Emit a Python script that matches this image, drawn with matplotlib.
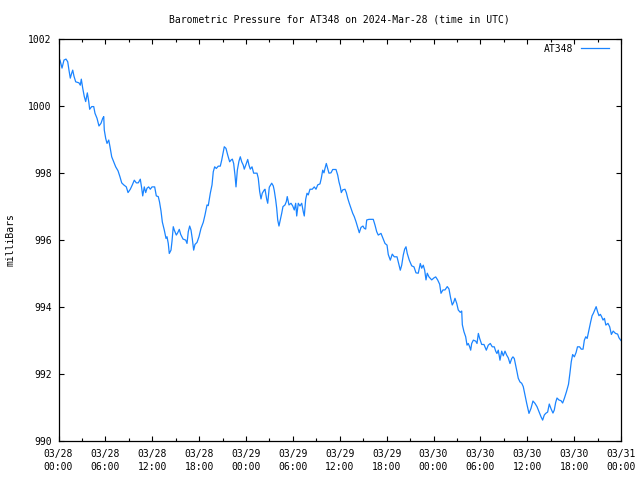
import matplotlib
matplotlib.use("Agg")
import matplotlib.pyplot as plt
from matplotlib.ticker import MultipleLocator, FixedLocator

# ---- data (hours since 2024-03-28 00:00 UTC, pressure in milliBars) ----
hours = [
    0.19, 0.45, 0.70, 0.96, 1.18, 1.34, 1.51, 1.69, 1.82, 1.98, 2.20, 2.62, 2.79, 2.92, 3.10,
    3.30, 3.48, 3.69, 3.87, 3.99, 4.25, 4.51, 4.67, 4.93, 5.18, 5.44, 5.66, 5.79, 5.86, 6.04,
    6.21, 6.43, 6.59, 6.81, 7.07, 7.32, 7.62, 7.87, 8.09, 8.35, 8.68, 8.90, 9.19, 9.45, 9.70,
    9.96, 10.21, 10.47, 10.65, 10.78, 10.98, 11.16, 11.33, 11.54, 11.75, 11.97, 12.31, 12.52, 12.77, 12.93,
    13.12, 13.29, 13.54, 13.76, 13.89, 14.05, 14.18, 14.40, 14.53, 14.69, 14.82, 15.08, 15.26, 15.46, 15.64,
    15.94, 16.28, 16.45, 16.61, 16.79, 16.96, 17.13, 17.30, 17.47, 17.73, 17.98, 18.24, 18.53, 18.75, 19.01,
    19.17, 19.43, 19.65, 19.81, 19.99, 20.20, 20.45, 20.71, 20.89, 21.05, 21.22, 21.44, 21.66, 21.91, 22.08,
    22.25, 22.42, 22.59, 22.72, 22.89, 23.10, 23.27, 23.45, 23.65, 23.78, 24.00, 24.22, 24.38, 24.55, 24.77,
    24.98, 25.41, 25.57, 25.75, 25.92, 26.08, 26.34, 26.43, 26.65, 26.78, 26.98, 27.29, 27.49, 27.62, 27.80,
    27.93, 28.06, 28.22, 28.39, 28.57, 28.73, 28.99, 29.16, 29.28, 29.50, 29.76, 29.98, 30.18, 30.36, 30.49,
    30.69, 30.91, 31.13, 31.33, 31.46, 31.64, 31.81, 31.97, 32.19, 32.48, 32.74, 32.96, 33.18, 33.47, 33.64,
    33.82, 33.98, 34.11, 34.28, 34.46, 34.62, 34.88, 35.10, 35.52, 35.74, 35.90, 36.07, 36.20, 36.38, 36.67,
    36.84, 37.02, 37.22, 37.44, 37.66, 37.86, 38.08, 38.30, 38.50, 38.72, 38.97, 39.14, 39.32, 39.45, 39.74,
    40.29, 40.51, 40.73, 40.93, 41.28, 41.53, 41.79, 42.05, 42.21, 42.47, 42.72, 42.98, 43.33, 43.54, 43.75,
    43.93, 44.13, 44.31, 44.48, 44.64, 44.90, 45.21, 45.50, 45.76, 46.05, 46.31, 46.49, 46.69, 46.87, 47.04,
    47.20, 47.42, 47.77, 48.06, 48.28, 48.53, 48.79, 48.96, 49.21, 49.47, 49.76, 49.98, 50.20, 50.40, 50.58,
    50.75, 50.97, 51.17, 51.43, 51.61, 51.69, 51.90, 52.12, 52.29, 52.45, 52.63, 52.76, 52.89, 53.10, 53.40,
    53.57, 53.74, 53.91, 54.17, 54.46, 54.76, 55.01, 55.27, 55.52, 55.78, 55.96, 56.12, 56.29, 56.51, 56.73,
    56.93, 57.15, 57.37, 57.57, 57.79, 58.01, 58.17, 58.34, 58.52, 58.69, 58.85, 59.07, 59.29, 59.49, 59.71,
    59.93, 60.22, 60.48, 60.73, 60.99, 61.25, 61.50, 61.76, 61.97, 62.18, 62.36, 62.61, 62.82, 63.04, 63.29,
    63.46, 63.64, 63.81, 64.06, 64.32, 64.53, 64.75, 65.02, 65.28, 65.46, 65.63, 65.81, 66.03, 66.25, 66.43,
    66.70, 66.91, 67.14, 67.31, 67.49, 67.67, 67.94, 68.12, 68.30, 68.46, 68.64, 68.82, 69.00, 69.18, 69.36,
    69.52, 69.70, 69.88, 70.06, 70.33, 70.55, 70.77, 71.00, 71.30, 71.57, 71.74, 71.99,
]

pressure = [
    1001.37, 1001.13, 1001.37, 1001.40, 1001.32, 1001.07, 1000.83, 1000.98, 1001.07, 1000.89, 1000.72, 1000.69, 1000.62, 1000.80, 1000.53,
    1000.28, 1000.13, 1000.39, 1000.13, 999.90, 999.98, 999.98, 999.78, 999.63, 999.40, 999.48, 999.63, 999.68, 999.28, 999.03,
    998.88, 998.98, 998.78, 998.48, 998.33, 998.18, 998.06, 997.88, 997.70, 997.64, 997.58, 997.41, 997.51, 997.64, 997.78,
    997.70, 997.70, 997.81, 997.54, 997.31, 997.58, 997.41, 997.54, 997.58, 997.51, 997.58, 997.58, 997.31, 997.29, 997.13,
    996.86, 996.53, 996.29, 996.04, 996.09, 995.89, 995.59, 995.69, 995.96, 996.39, 996.29, 996.14, 996.21, 996.31, 996.16,
    996.02, 995.99, 995.89, 996.24, 996.41, 996.29, 996.02, 995.69, 995.86, 995.92, 996.09, 996.34, 996.52, 996.74, 997.04,
    997.02, 997.39, 997.64, 998.03, 998.18, 998.13, 998.20, 998.20, 998.38, 998.58, 998.78, 998.73, 998.53, 998.33, 998.38,
    998.41, 998.28, 997.93, 997.58, 998.08, 998.35, 998.48, 998.33, 998.23, 998.11, 998.25, 998.40, 998.23, 998.11, 998.18,
    997.99, 997.99, 997.84, 997.44, 997.22, 997.39, 997.49, 997.51, 997.21, 997.09, 997.57, 997.69, 997.61, 997.47, 997.19,
    996.94, 996.59, 996.41, 996.59, 996.79, 996.99, 997.04, 997.14, 997.29, 997.04, 997.09, 997.01, 996.89, 997.09, 996.71,
    997.09, 997.01, 997.09, 996.84, 996.71, 997.21, 997.39, 997.34, 997.51, 997.51, 997.58, 997.51, 997.64, 997.67, 997.84,
    998.08, 998.00, 998.13, 998.28, 998.13, 997.99, 998.00, 998.10, 998.10, 997.93, 997.73, 997.58, 997.41, 997.49, 997.51,
    997.41, 997.24, 997.09, 996.94, 996.79, 996.69, 996.54, 996.37, 996.21, 996.37, 996.41, 996.34, 996.32, 996.59, 996.61,
    996.61, 996.44, 996.24, 996.14, 996.19, 996.04, 995.89, 995.84, 995.56, 995.39, 995.57, 995.49, 995.49, 995.29, 995.09,
    995.24, 995.54, 995.72, 995.79, 995.59, 995.39, 995.22, 995.19, 995.01, 995.00, 995.29, 995.15, 995.24, 995.09, 994.80,
    995.00, 994.89, 994.80, 994.86, 994.89, 994.80, 994.67, 994.40, 994.50, 994.50, 994.60, 994.53, 994.25, 994.05, 994.13,
    994.25, 994.10, 993.90, 993.83, 993.87, 993.46, 993.25, 993.10, 992.85, 992.90, 992.80, 992.70, 992.90, 993.00, 992.97,
    992.90, 993.20, 993.05, 992.87, 992.87, 992.70, 992.85, 992.90, 992.80, 992.80, 992.67, 992.60, 992.70, 992.40, 992.67,
    992.53, 992.67, 992.55, 992.47, 992.30, 992.45, 992.50, 992.45, 992.25, 992.05, 991.86, 991.75, 991.71, 991.61, 991.36,
    991.11, 990.81, 990.96, 991.18, 991.11, 991.01, 990.86, 990.71, 990.61, 990.76, 990.81, 990.85, 991.09, 990.95, 990.82,
    990.91, 991.14, 991.27, 991.21, 991.19, 991.12, 991.26, 991.46, 991.68, 992.01, 992.35, 992.57, 992.50, 992.63, 992.80,
    992.80, 992.73, 992.73, 993.00, 993.10, 993.05, 993.35, 993.55, 993.73, 993.80, 993.90, 994.00, 993.85, 993.73, 993.77,
    993.70, 993.60, 993.65, 993.45, 993.50, 993.40, 993.17, 993.27, 993.20, 993.18, 993.07, 992.99,
]

xtick_hours = [0, 6, 12, 18, 24, 30, 36, 42, 48, 54, 60, 66, 72]
xtick_labels = ["03/28\n00:00", "03/28\n06:00", "03/28\n12:00", "03/28\n18:00",
                "03/29\n00:00", "03/29\n06:00", "03/29\n12:00", "03/29\n18:00",
                "03/30\n00:00", "03/30\n06:00", "03/30\n12:00", "03/30\n18:00",
                "03/31\n00:00"]
yticks = [990, 992, 994, 996, 998, 1000, 1002]
series_name = "AT348"
title = "Barometric Pressure for AT348 on 2024-Mar-28 (time in UTC)"

plt.rcParams['font.family'] = ['DejaVu Sans Mono']
FS = 7

fig = plt.figure(figsize=(6.4, 4.8), dpi=100)
ax = fig.add_axes([58.5/640, 1-440.5/480, (621-58.5)/640, (440.5-39)/480])

line, = ax.plot(hours, pressure, color='#1a84ff', lw=0.9, label=series_name)

ax.set_xlim(0, 72)
ax.set_ylim(990, 1002)
ax.xaxis.set_major_locator(FixedLocator(xtick_hours))
ax.set_xticklabels(xtick_labels)
ax.xaxis.set_minor_locator(MultipleLocator(3))
ax.set_yticks(yticks)
ax.set_yticklabels([str(v) for v in yticks])

ax.tick_params(which='both', direction='in', top=True, right=True, width=0.8, labelsize=FS)
ax.tick_params(which='major', length=3.6)
ax.tick_params(which='minor', length=2.0)
ax.tick_params(axis='y', pad=5)
ax.tick_params(axis='x', pad=6)
for lab in ax.get_xticklabels():
    lab.set_linespacing(1.45)
for s in ax.spines.values():
    s.set_linewidth(0.9)

fig.text((58.5+621)/2/640, 1-19/480, title, ha='center', va='center', fontsize=FS)
fig.text(11/640, 1-240/480, "milliBars", rotation=90, ha='center', va='center', fontsize=FS)

ax.legend(loc='upper right', bbox_to_anchor=(609/640, 1-43.5/480), bbox_transform=fig.transFigure,
          frameon=False, markerfirst=False, fontsize=FS, borderpad=0, borderaxespad=0,
          handlelength=2.9, handletextpad=0.8)

fig.savefig('out.png', dpi=100)
